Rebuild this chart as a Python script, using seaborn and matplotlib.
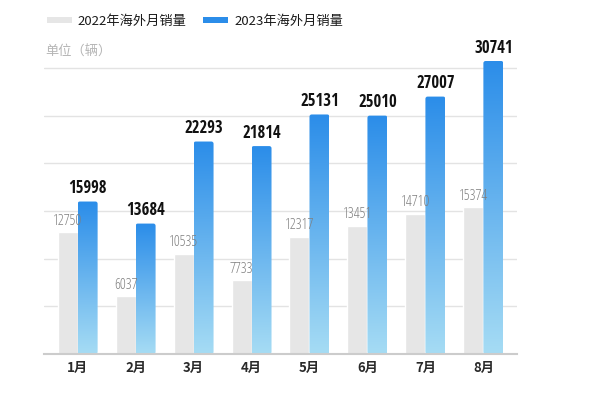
import numpy as np
import pandas as pd
import matplotlib
matplotlib.use("Agg")
import matplotlib.pyplot as plt
import matplotlib.font_manager as fm
from matplotlib.textpath import TextToPath
import seaborn as sns
from matplotlib.colors import LinearSegmentedColormap
from matplotlib.patches import Patch, FancyBboxPatch

months = ["1月", "2月", "3月", "4月", "5月", "6月", "7月", "8月"]
sales_2022 = [12750, 6037, 10535, 7733, 12317, 13451, 14710, 15374]
sales_2023 = [15998, 13684, 22293, 21814, 25131, 25010, 27007, 30741]
series = ["2022年海外月销量", "2023年海外月销量"]

df = pd.DataFrame({
    "month": months * 2,
    "sales": sales_2022 + sales_2023,
    "series": [series[0]] * 8 + [series[1]] * 8,
})

sns.set_theme(style="white")
plt.rcParams["font.family"] = ["Noto Sans CJK SC", "DejaVu Sans"]

WHITELIST = ("dejavu sans", "liberation sans", "noto sans", "roboto", "open sans", "lato", "inter")


def candidates():
    t2p = TextToPath()
    out = []
    seen = set()
    for f in fm.fontManager.ttflist:
        if f.fname in seen:
            continue
        seen.add(f.fname)
        name = f.name.lower()
        low = (f.name + f.fname).lower()
        if not name.startswith(WHITELIST) or "cjk" in low or "mono" in low:
            continue
        if f.style != "normal" or "italic" in low or "oblique" in low:
            continue
        w = f.weight if isinstance(f.weight, int) else 400
        try:
            ft = fm.get_font(f.fname)
            cm = ft.get_charmap()
            if not all(ord(c) in cm for c in "0123456789"):
                continue
            prop = fm.FontProperties(fname=f.fname, size=12)
            wd, ht, _ = t2p.get_text_width_height_descent("30741", prop, ismath=False)
            if wd <= 0 or ht <= 0:
                continue
        except Exception:
            continue
        out.append((wd / ht, w, f.name, f.fname))
    return out


fb = fr = None
try:
    cands = candidates()
    bolds = sorted([c for c in cands if c[1] >= 600], key=lambda c: c[0])
    if bolds:
        fb = bolds[0][3]
        fam = bolds[0][2]
        regs = [c for c in cands if c[2] == fam and 300 <= c[1] <= 500]
        if regs:
            fr = sorted(regs, key=lambda c: abs(c[1] - 400))[0][3]
    if fr is None:
        regs = sorted([c for c in cands if 300 <= c[1] <= 500], key=lambda c: c[0])
        if regs:
            fr = regs[0][3]
except Exception:
    pass
fp_bold = fm.FontProperties(fname=fb) if fb else fm.FontProperties(family="DejaVu Sans", weight="bold")
fp_reg = fm.FontProperties(fname=fr) if fr else fm.FontProperties(family="DejaVu Sans")

GRAY = "#e6e6e6"
BLUE_TOP = "#2b8de9"
BLUE_BOT = "#a6dcf4"

fig = plt.figure(figsize=(6.0, 3.98), dpi=100)
ax = fig.add_axes([44 / 600, 1 - 354 / 398, (517 - 44) / 600, (354 - 49) / 398])

sns.barplot(data=df, x="month", y="sales", hue="series", order=months,
            hue_order=series, palette=[GRAY, BLUE_TOP], width=0.69,
            dodge=True, gap=0, legend=False, ax=ax, saturation=1,
            errorbar=None)

ax.set_xlim(-0.58, 7.58)
ax.set_ylim(0, 32000)
ax.set_yticks([5000, 10000, 15000, 20000, 25000, 30000])
ax.yaxis.grid(True, color="#e3e3e3", linewidth=1.0)
ax.set_axisbelow(True)
ax.tick_params(axis="y", left=False, labelleft=False)
ax.tick_params(axis="x", bottom=False, labelsize=9.5, colors="#2a2a2a", pad=-1)
for lbl in ax.get_xticklabels():
    lbl.set_fontweight("bold")
ax.set_xlabel("")
ax.set_ylabel("")
for s in ["top", "right", "left"]:
    ax.spines[s].set_visible(False)
ax.spines["bottom"].set_color("#cccccc")
ax.spines["bottom"].set_linewidth(1.5)
ax.spines["bottom"].set_zorder(5)

cmap = LinearSegmentedColormap.from_list("bl", [BLUE_BOT, BLUE_TOP])
grad = np.linspace(0, 1, 256).reshape(-1, 1)

patches = ax.patches
n = len(months)
gray_bars = list(patches[:n])
blue_bars = list(patches[n:2 * n])

xpp = (7.58 + 0.58) / 473.0
ypp = 32000 / 305.0
aspect = ypp / xpp

for p, v in zip(gray_bars, sales_2022):
    x = p.get_x() + p.get_width() / 2
    ax.text(x, p.get_height() + 350, f"{v}", ha="center", va="bottom",
            fontproperties=fp_reg, fontsize=10.5, color="#7f7f7f")

for p, v in zip(blue_bars, sales_2023):
    x0, w, h = p.get_x(), p.get_width(), p.get_height()
    p.set_facecolor("none")
    p.set_edgecolor("none")
    clip = FancyBboxPatch((x0, 0), w, h, boxstyle=f"round,pad=0,rounding_size={2.2 * xpp}",
                          mutation_aspect=aspect, transform=ax.transData,
                          facecolor="none", edgecolor="none")
    ax.add_patch(clip)
    im = ax.imshow(grad, cmap=cmap, aspect="auto", origin="lower",
                   extent=[x0, x0 + w, 0, h], zorder=2)
    im.set_clip_path(clip)
    ax.text(x0 + w / 2, h + 450, f"{v}", ha="center", va="bottom",
            fontproperties=fp_bold, fontsize=12, color="#111111")

ax.set_xlim(-0.58, 7.58)
ax.set_ylim(0, 32000)

handles = [Patch(facecolor=GRAY, edgecolor="none"),
           Patch(facecolor=BLUE_TOP, edgecolor="none")]
fig.legend(handles, series, loc="upper left", bbox_to_anchor=(35 / 600, 1 - 3 / 398),
           ncol=2, frameon=False, fontsize=9.5, handlelength=1.9, handleheight=0.4,
           handletextpad=0.45, columnspacing=1.25, labelcolor="#1a1a1a")

fig.text(45 / 600, 1 - 52 / 398, "单位（辆）", fontsize=9.5, color="#b5b5b5",
         va="center", ha="left")

fig.savefig("out.png", dpi=100, facecolor="white")
